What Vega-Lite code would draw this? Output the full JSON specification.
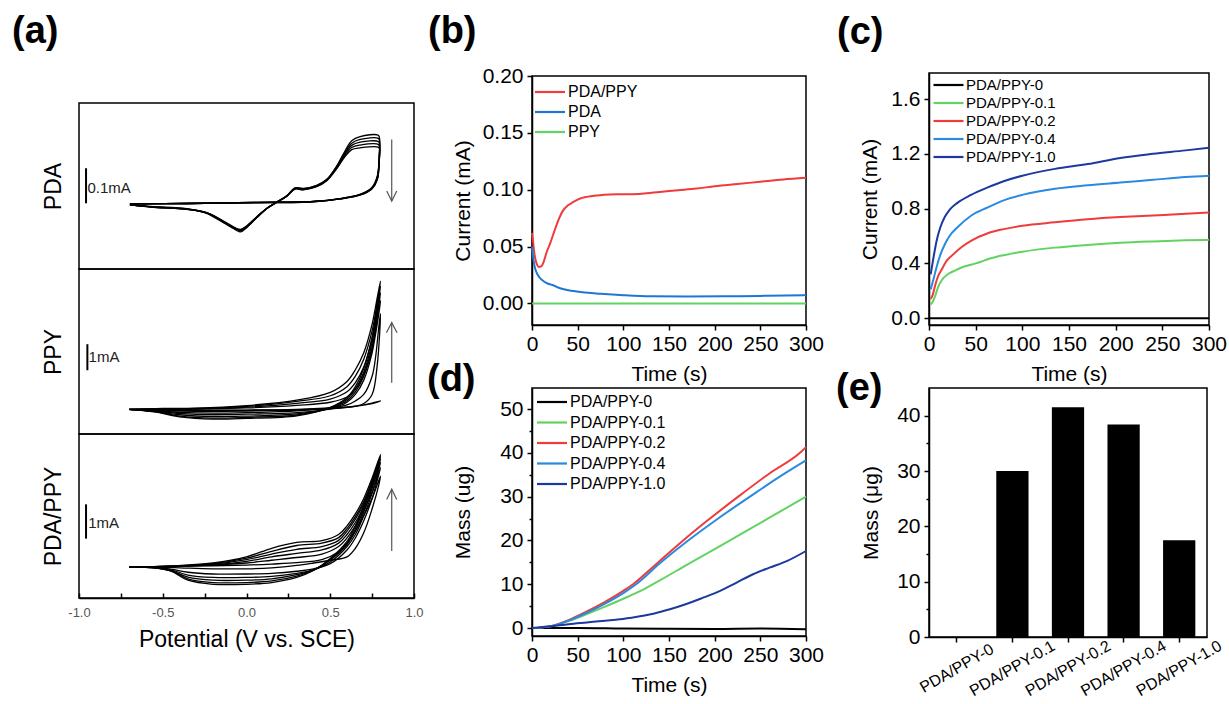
{
"$schema": "https://vega.github.io/schema/vega-lite/v6.json",
"background": "white",
"padding": {"left": 12, "top": 12, "right": 2, "bottom": 2},
"config": {
  "font": "Liberation Sans",
  "view": {"stroke": "black", "strokeWidth": 1.5},
  "axis": {"domainColor": "black", "domainWidth": 1.5, "tickColor": "black", "tickWidth": 1.5, "tickSize": 5, "labelFont": "Liberation Sans", "titleFont": "Liberation Sans", "titleFontWeight": "normal", "labelColor": "black", "titleColor": "black", "grid": false, "labelFontSize": 21, "titleFontSize": 21, "labelPadding": 3, "labelOverlap": false, "labelFlush": false},
  "legend": {"labelFont": "Liberation Sans", "labelColor": "black", "symbolType": "M-2.5,0L2.5,0", "symbolSize": 144, "symbolStrokeWidth": 2.2, "padding": 0, "labelOffset": 10, "orient": "none"},
  "title": {"font": "Liberation Sans", "fontSize": 38, "fontWeight": "bold", "anchor": "start", "frame": "group", "baseline": "alphabetic", "color": "black"}
},
"resolve": {"scale": {"color": "independent"}, "legend": {"color": "independent"}},
"spacing": 2,
"hconcat": [
 {"bounds": "flush", "spacing": 0, "vconcat": [
  {"width": 335, "height": 30, "data": {"values": [{}]}, "mark": {"type": "point", "opacity": 0}, "view": {"stroke": null},
   "title": {"text": "(a)", "offset": 22, "dx": -67}},
  {"width": 335, "height": 166,
   "encoding": {
     "x": {"field": "v", "type": "quantitative", "scale": {"domain": [-1, 1], "nice": false}, "axis": null},
     "y": {"field": "a", "type": "quantitative", "scale": {"domain": [-0.18, 0.294], "nice": false, "zero": false}, "axis": {"title": "PDA", "labels": false, "ticks": false, "domain": false, "titleFontSize": 23, "titlePadding": 14}}
   },
   "layer": [
    {"data": {"values": [
{"c":1,"i":0,"v":-0.696,"a":0.003},{"c":1,"i":1,"v":-0.556,"a":-0.002},{"c":1,"i":2,"v":-0.357,"a":-0.008},{"c":1,"i":3,"v":-0.238,"a":-0.021},{"c":1,"i":4,"v":-0.138,"a":-0.048},{"c":1,"i":5,"v":-0.069,"a":-0.067},{"c":1,"i":6,"v":-0.035,"a":-0.074},{"c":1,"i":7,"v":0.001,"a":-0.062},{"c":1,"i":8,"v":0.061,"a":-0.034},{"c":1,"i":9,"v":0.12,"a":-0.008},{"c":1,"i":10,"v":0.18,"a":0.011},{"c":1,"i":11,"v":0.24,"a":0.029},{"c":1,"i":12,"v":0.29,"a":0.052},{"c":1,"i":13,"v":0.339,"a":0.05},{"c":1,"i":14,"v":0.419,"a":0.059},{"c":1,"i":15,"v":0.479,"a":0.076},{"c":1,"i":16,"v":0.538,"a":0.114},{"c":1,"i":17,"v":0.588,"a":0.157},{"c":1,"i":18,"v":0.628,"a":0.186},{"c":1,"i":19,"v":0.678,"a":0.198},{"c":1,"i":20,"v":0.787,"a":0.202},{"c":1,"i":21,"v":0.795,"a":0.19},{"c":1,"i":22,"v":0.793,"a":0.152},{"c":1,"i":23,"v":0.781,"a":0.086},{"c":1,"i":24,"v":0.747,"a":0.052},{"c":1,"i":25,"v":0.678,"a":0.033},{"c":1,"i":26,"v":0.558,"a":0.021},{"c":1,"i":27,"v":0.399,"a":0.013},{"c":1,"i":28,"v":0.042,"a":0.01},{"c":1,"i":29,"v":-0.357,"a":0.007},{"c":1,"i":30,"v":-0.696,"a":0.006},
{"c":2,"i":0,"v":-0.696,"a":0.003},{"c":2,"i":1,"v":-0.556,"a":-0.003},{"c":2,"i":2,"v":-0.357,"a":-0.009},{"c":2,"i":3,"v":-0.238,"a":-0.02},{"c":2,"i":4,"v":-0.138,"a":-0.046},{"c":2,"i":5,"v":-0.069,"a":-0.065},{"c":2,"i":6,"v":-0.035,"a":-0.071},{"c":2,"i":7,"v":0.001,"a":-0.06},{"c":2,"i":8,"v":0.061,"a":-0.033},{"c":2,"i":9,"v":0.12,"a":-0.008},{"c":2,"i":10,"v":0.18,"a":0.011},{"c":2,"i":11,"v":0.24,"a":0.029},{"c":2,"i":12,"v":0.29,"a":0.051},{"c":2,"i":13,"v":0.339,"a":0.049},{"c":2,"i":14,"v":0.419,"a":0.058},{"c":2,"i":15,"v":0.479,"a":0.075},{"c":2,"i":16,"v":0.538,"a":0.112},{"c":2,"i":17,"v":0.588,"a":0.153},{"c":2,"i":18,"v":0.628,"a":0.179},{"c":2,"i":19,"v":0.678,"a":0.19},{"c":2,"i":20,"v":0.787,"a":0.193},{"c":2,"i":21,"v":0.795,"a":0.183},{"c":2,"i":22,"v":0.793,"a":0.146},{"c":2,"i":23,"v":0.781,"a":0.083},{"c":2,"i":24,"v":0.747,"a":0.051},{"c":2,"i":25,"v":0.678,"a":0.033},{"c":2,"i":26,"v":0.558,"a":0.021},{"c":2,"i":27,"v":0.399,"a":0.013},{"c":2,"i":28,"v":0.042,"a":0.01},{"c":2,"i":29,"v":-0.357,"a":0.007},{"c":2,"i":30,"v":-0.696,"a":0.006},
{"c":3,"i":0,"v":-0.696,"a":0.003},{"c":3,"i":1,"v":-0.556,"a":-0.003},{"c":3,"i":2,"v":-0.357,"a":-0.009},{"c":3,"i":3,"v":-0.238,"a":-0.02},{"c":3,"i":4,"v":-0.138,"a":-0.045},{"c":3,"i":5,"v":-0.069,"a":-0.064},{"c":3,"i":6,"v":-0.035,"a":-0.069},{"c":3,"i":7,"v":0.001,"a":-0.059},{"c":3,"i":8,"v":0.061,"a":-0.032},{"c":3,"i":9,"v":0.12,"a":-0.007},{"c":3,"i":10,"v":0.18,"a":0.011},{"c":3,"i":11,"v":0.24,"a":0.028},{"c":3,"i":12,"v":0.29,"a":0.05},{"c":3,"i":13,"v":0.339,"a":0.048},{"c":3,"i":14,"v":0.419,"a":0.057},{"c":3,"i":15,"v":0.479,"a":0.074},{"c":3,"i":16,"v":0.538,"a":0.11},{"c":3,"i":17,"v":0.588,"a":0.149},{"c":3,"i":18,"v":0.628,"a":0.173},{"c":3,"i":19,"v":0.678,"a":0.182},{"c":3,"i":20,"v":0.787,"a":0.184},{"c":3,"i":21,"v":0.795,"a":0.175},{"c":3,"i":22,"v":0.793,"a":0.14},{"c":3,"i":23,"v":0.781,"a":0.08},{"c":3,"i":24,"v":0.747,"a":0.05},{"c":3,"i":25,"v":0.678,"a":0.032},{"c":3,"i":26,"v":0.558,"a":0.02},{"c":3,"i":27,"v":0.399,"a":0.013},{"c":3,"i":28,"v":0.042,"a":0.01},{"c":3,"i":29,"v":-0.357,"a":0.007},{"c":3,"i":30,"v":-0.696,"a":0.006},
{"c":4,"i":0,"v":-0.696,"a":0.003},{"c":4,"i":1,"v":-0.556,"a":-0.003},{"c":4,"i":2,"v":-0.357,"a":-0.009},{"c":4,"i":3,"v":-0.238,"a":-0.019},{"c":4,"i":4,"v":-0.138,"a":-0.044},{"c":4,"i":5,"v":-0.069,"a":-0.063},{"c":4,"i":6,"v":-0.035,"a":-0.068},{"c":4,"i":7,"v":0.001,"a":-0.058},{"c":4,"i":8,"v":0.061,"a":-0.032},{"c":4,"i":9,"v":0.12,"a":-0.007},{"c":4,"i":10,"v":0.18,"a":0.01},{"c":4,"i":11,"v":0.24,"a":0.028},{"c":4,"i":12,"v":0.29,"a":0.049},{"c":4,"i":13,"v":0.339,"a":0.047},{"c":4,"i":14,"v":0.419,"a":0.056},{"c":4,"i":15,"v":0.479,"a":0.073},{"c":4,"i":16,"v":0.538,"a":0.108},{"c":4,"i":17,"v":0.588,"a":0.145},{"c":4,"i":18,"v":0.628,"a":0.167},{"c":4,"i":19,"v":0.678,"a":0.174},{"c":4,"i":20,"v":0.787,"a":0.176},{"c":4,"i":21,"v":0.795,"a":0.168},{"c":4,"i":22,"v":0.793,"a":0.135},{"c":4,"i":23,"v":0.781,"a":0.077},{"c":4,"i":24,"v":0.747,"a":0.049},{"c":4,"i":25,"v":0.678,"a":0.032},{"c":4,"i":26,"v":0.558,"a":0.02},{"c":4,"i":27,"v":0.399,"a":0.012},{"c":4,"i":28,"v":0.042,"a":0.009},{"c":4,"i":29,"v":-0.357,"a":0.007},{"c":4,"i":30,"v":-0.696,"a":0.006},
{"c":5,"i":0,"v":-0.696,"a":0.003},{"c":5,"i":1,"v":-0.556,"a":-0.004},{"c":5,"i":2,"v":-0.357,"a":-0.01},{"c":5,"i":3,"v":-0.238,"a":-0.019},{"c":5,"i":4,"v":-0.138,"a":-0.043},{"c":5,"i":5,"v":-0.069,"a":-0.062},{"c":5,"i":6,"v":-0.035,"a":-0.067},{"c":5,"i":7,"v":0.001,"a":-0.057},{"c":5,"i":8,"v":0.061,"a":-0.031},{"c":5,"i":9,"v":0.12,"a":-0.007},{"c":5,"i":10,"v":0.18,"a":0.01},{"c":5,"i":11,"v":0.24,"a":0.027},{"c":5,"i":12,"v":0.29,"a":0.048},{"c":5,"i":13,"v":0.339,"a":0.046},{"c":5,"i":14,"v":0.419,"a":0.055},{"c":5,"i":15,"v":0.479,"a":0.072},{"c":5,"i":16,"v":0.538,"a":0.106},{"c":5,"i":17,"v":0.588,"a":0.141},{"c":5,"i":18,"v":0.628,"a":0.161},{"c":5,"i":19,"v":0.678,"a":0.166},{"c":5,"i":20,"v":0.787,"a":0.168},{"c":5,"i":21,"v":0.795,"a":0.161},{"c":5,"i":22,"v":0.793,"a":0.13},{"c":5,"i":23,"v":0.781,"a":0.075},{"c":5,"i":24,"v":0.747,"a":0.048},{"c":5,"i":25,"v":0.678,"a":0.031},{"c":5,"i":26,"v":0.558,"a":0.02},{"c":5,"i":27,"v":0.399,"a":0.012},{"c":5,"i":28,"v":0.042,"a":0.009},{"c":5,"i":29,"v":-0.357,"a":0.007},{"c":5,"i":30,"v":-0.696,"a":0.006}
     ]},
     "mark": {"type": "line", "color": "black", "strokeWidth": 1.3, "interpolate": "catmull-rom"},
     "encoding": {"detail": {"field": "c", "type": "nominal"}, "order": {"field": "i", "type": "quantitative"}}},
    {"data": {"values": [{"v": -0.958, "a": 0.0077, "a2": 0.1077}]}, "mark": {"type": "rule", "color": "black", "strokeWidth": 2},
     "encoding": {"y2": {"field": "a2"}}},
    {"data": {"values": [{"v": -0.95, "a": 0.052, "t": "0.1mA"}]}, "mark": {"type": "text", "align": "left", "baseline": "middle", "fontSize": 15, "color": "#222"},
     "encoding": {"text": {"field": "t"}}},
    {"data": {"values": [{"v": 0.867, "a": 0.19, "a2": 0.014}]}, "mark": {"type": "rule", "color": "#555", "strokeWidth": 1.2},
     "encoding": {"y2": {"field": "a2"}}},
    {"data": {"values": [{"v": 0.837, "a": 0.043, "i": 0}, {"v": 0.867, "a": 0.014, "i": 1}, {"v": 0.897, "a": 0.043, "i": 2}]}, "mark": {"type": "line", "color": "#555", "strokeWidth": 1.2},
     "encoding": {"order": {"field": "i", "type": "quantitative"}}}
   ]},
  {"width": 335, "height": 165,
   "encoding": {
     "x": {"field": "v", "type": "quantitative", "scale": {"domain": [-1, 1], "nice": false}, "axis": null},
     "y": {"field": "a", "type": "quantitative", "scale": {"domain": [-0.92, 5.42], "nice": false, "zero": false}, "axis": {"title": "PPY", "labels": false, "ticks": false, "domain": false, "titleFontSize": 23, "titlePadding": 14}}
   },
   "layer": [
    {"data": {"values": [
{"c":0,"i":0,"v":-0.7,"a":0.03},{"c":0,"i":1,"v":-0.5,"a":0.0},{"c":0,"i":2,"v":-0.3,"a":0.0},{"c":0,"i":3,"v":0.0,"a":0.0},{"c":0,"i":4,"v":0.3,"a":0.03},{"c":0,"i":5,"v":0.5,"a":0.08},{"c":0,"i":6,"v":0.6,"a":0.12},{"c":0,"i":7,"v":0.65,"a":0.15},{"c":0,"i":8,"v":0.7,"a":0.19},{"c":0,"i":9,"v":0.75,"a":0.25},{"c":0,"i":10,"v":0.78,"a":0.3},{"c":0,"i":11,"v":0.8,"a":0.35},{"c":0,"i":12,"v":0.79,"a":0.33},{"c":0,"i":13,"v":0.77,"a":0.3},{"c":0,"i":14,"v":0.75,"a":0.27},{"c":0,"i":15,"v":0.7,"a":0.2},{"c":0,"i":16,"v":0.65,"a":0.14},{"c":0,"i":17,"v":0.6,"a":0.1},{"c":0,"i":18,"v":0.5,"a":0.05},{"c":0,"i":19,"v":0.3,"a":0.0},{"c":0,"i":20,"v":0.0,"a":-0.04},{"c":0,"i":21,"v":-0.2,"a":-0.05},{"c":0,"i":22,"v":-0.4,"a":-0.04},{"c":0,"i":23,"v":-0.55,"a":-0.01},{"c":0,"i":24,"v":-0.7,"a":0.02},
{"c":1,"i":0,"v":-0.7,"a":0.03},{"c":1,"i":1,"v":-0.5,"a":0.0},{"c":1,"i":2,"v":-0.3,"a":-0.01},{"c":1,"i":3,"v":0.0,"a":-0.01},{"c":1,"i":4,"v":0.3,"a":0.01},{"c":1,"i":5,"v":0.5,"a":0.05},{"c":1,"i":6,"v":0.6,"a":0.1},{"c":1,"i":7,"v":0.65,"a":0.15},{"c":1,"i":8,"v":0.7,"a":0.25},{"c":1,"i":9,"v":0.75,"a":0.6},{"c":1,"i":10,"v":0.78,"a":1.7},{"c":1,"i":11,"v":0.8,"a":3.7},{"c":1,"i":12,"v":0.79,"a":3.2},{"c":1,"i":13,"v":0.77,"a":2.0},{"c":1,"i":14,"v":0.75,"a":1.3},{"c":1,"i":15,"v":0.7,"a":0.6},{"c":1,"i":16,"v":0.65,"a":0.35},{"c":1,"i":17,"v":0.6,"a":0.2},{"c":1,"i":18,"v":0.5,"a":0.08},{"c":1,"i":19,"v":0.3,"a":-0.03},{"c":1,"i":20,"v":0.0,"a":-0.1},{"c":1,"i":21,"v":-0.2,"a":-0.12},{"c":1,"i":22,"v":-0.4,"a":-0.09},{"c":1,"i":23,"v":-0.55,"a":-0.03},{"c":1,"i":24,"v":-0.7,"a":0.02},
{"c":2,"i":0,"v":-0.7,"a":0.03},{"c":2,"i":1,"v":-0.5,"a":0.03},{"c":2,"i":2,"v":-0.3,"a":0.04},{"c":2,"i":3,"v":0.0,"a":0.08},{"c":2,"i":4,"v":0.3,"a":0.18},{"c":2,"i":5,"v":0.5,"a":0.3},{"c":2,"i":6,"v":0.6,"a":0.5},{"c":2,"i":7,"v":0.65,"a":0.8},{"c":2,"i":8,"v":0.7,"a":1.35},{"c":2,"i":9,"v":0.75,"a":2.4},{"c":2,"i":10,"v":0.78,"a":3.4},{"c":2,"i":11,"v":0.8,"a":4.2},{"c":2,"i":12,"v":0.79,"a":3.7},{"c":2,"i":13,"v":0.77,"a":2.9},{"c":2,"i":14,"v":0.75,"a":2.2},{"c":2,"i":15,"v":0.7,"a":1.15},{"c":2,"i":16,"v":0.65,"a":0.6},{"c":2,"i":17,"v":0.6,"a":0.3},{"c":2,"i":18,"v":0.5,"a":0.05},{"c":2,"i":19,"v":0.3,"a":-0.1},{"c":2,"i":20,"v":0.0,"a":-0.16},{"c":2,"i":21,"v":-0.2,"a":-0.18},{"c":2,"i":22,"v":-0.4,"a":-0.13},{"c":2,"i":23,"v":-0.55,"a":-0.04},{"c":2,"i":24,"v":-0.7,"a":0.03},
{"c":3,"i":0,"v":-0.7,"a":0.03},{"c":3,"i":1,"v":-0.5,"a":0.04},{"c":3,"i":2,"v":-0.3,"a":0.05},{"c":3,"i":3,"v":0.0,"a":0.11},{"c":3,"i":4,"v":0.3,"a":0.26},{"c":3,"i":5,"v":0.5,"a":0.42},{"c":3,"i":6,"v":0.6,"a":0.7},{"c":3,"i":7,"v":0.65,"a":1.05},{"c":3,"i":8,"v":0.7,"a":1.65},{"c":3,"i":9,"v":0.75,"a":2.75},{"c":3,"i":10,"v":0.78,"a":3.75},{"c":3,"i":11,"v":0.8,"a":4.5},{"c":3,"i":12,"v":0.79,"a":4.0},{"c":3,"i":13,"v":0.77,"a":3.15},{"c":3,"i":14,"v":0.75,"a":2.4},{"c":3,"i":15,"v":0.7,"a":1.3},{"c":3,"i":16,"v":0.65,"a":0.7},{"c":3,"i":17,"v":0.6,"a":0.36},{"c":3,"i":18,"v":0.5,"a":0.07},{"c":3,"i":19,"v":0.3,"a":-0.15},{"c":3,"i":20,"v":0.0,"a":-0.23},{"c":3,"i":21,"v":-0.2,"a":-0.25},{"c":3,"i":22,"v":-0.4,"a":-0.18},{"c":3,"i":23,"v":-0.55,"a":-0.05},{"c":3,"i":24,"v":-0.7,"a":0.03},
{"c":4,"i":0,"v":-0.7,"a":0.03},{"c":4,"i":1,"v":-0.5,"a":0.05},{"c":4,"i":2,"v":-0.3,"a":0.06},{"c":4,"i":3,"v":0.0,"a":0.14},{"c":4,"i":4,"v":0.3,"a":0.33},{"c":4,"i":5,"v":0.5,"a":0.55},{"c":4,"i":6,"v":0.6,"a":0.9},{"c":4,"i":7,"v":0.65,"a":1.3},{"c":4,"i":8,"v":0.7,"a":1.95},{"c":4,"i":9,"v":0.75,"a":3.05},{"c":4,"i":10,"v":0.78,"a":4.05},{"c":4,"i":11,"v":0.8,"a":4.75},{"c":4,"i":12,"v":0.79,"a":4.25},{"c":4,"i":13,"v":0.77,"a":3.4},{"c":4,"i":14,"v":0.75,"a":2.6},{"c":4,"i":15,"v":0.7,"a":1.45},{"c":4,"i":16,"v":0.65,"a":0.8},{"c":4,"i":17,"v":0.6,"a":0.42},{"c":4,"i":18,"v":0.5,"a":0.09},{"c":4,"i":19,"v":0.3,"a":-0.19},{"c":4,"i":20,"v":0.0,"a":-0.28},{"c":4,"i":21,"v":-0.2,"a":-0.31},{"c":4,"i":22,"v":-0.4,"a":-0.23},{"c":4,"i":23,"v":-0.55,"a":-0.06},{"c":4,"i":24,"v":-0.7,"a":0.03},
{"c":5,"i":0,"v":-0.7,"a":0.03},{"c":5,"i":1,"v":-0.5,"a":0.06},{"c":5,"i":2,"v":-0.3,"a":0.07},{"c":5,"i":3,"v":0.0,"a":0.17},{"c":5,"i":4,"v":0.3,"a":0.38},{"c":5,"i":5,"v":0.5,"a":0.68},{"c":5,"i":6,"v":0.6,"a":1.1},{"c":5,"i":7,"v":0.65,"a":1.55},{"c":5,"i":8,"v":0.7,"a":2.2},{"c":5,"i":9,"v":0.75,"a":3.3},{"c":5,"i":10,"v":0.78,"a":4.3},{"c":5,"i":11,"v":0.8,"a":4.95},{"c":5,"i":12,"v":0.79,"a":4.45},{"c":5,"i":13,"v":0.77,"a":3.6},{"c":5,"i":14,"v":0.75,"a":2.8},{"c":5,"i":15,"v":0.7,"a":1.6},{"c":5,"i":16,"v":0.65,"a":0.9},{"c":5,"i":17,"v":0.6,"a":0.48},{"c":5,"i":18,"v":0.5,"a":0.1},{"c":5,"i":19,"v":0.3,"a":-0.22},{"c":5,"i":20,"v":0.0,"a":-0.32},{"c":5,"i":21,"v":-0.2,"a":-0.35},{"c":5,"i":22,"v":-0.4,"a":-0.26},{"c":5,"i":23,"v":-0.55,"a":-0.07},{"c":5,"i":24,"v":-0.7,"a":0.03}
     ]},
     "mark": {"type": "line", "color": "black", "strokeWidth": 1.3, "interpolate": "catmull-rom"},
     "encoding": {"detail": {"field": "c", "type": "nominal"}, "order": {"field": "i", "type": "quantitative"}}},
    {"data": {"values": [{"v": -0.95, "a": 1.53, "a2": 2.53}]}, "mark": {"type": "rule", "color": "black", "strokeWidth": 2},
     "encoding": {"y2": {"field": "a2"}}},
    {"data": {"values": [{"v": -0.943, "a": 2.04, "t": "1mA"}]}, "mark": {"type": "text", "align": "left", "baseline": "middle", "fontSize": 15, "color": "#222"},
     "encoding": {"text": {"field": "t"}}},
    {"data": {"values": [{"v": 0.867, "a": 1.05, "a2": 3.36}]}, "mark": {"type": "rule", "color": "#555", "strokeWidth": 1.2},
     "encoding": {"y2": {"field": "a2"}}},
    {"data": {"values": [{"v": 0.835, "a": 2.97, "i": 0}, {"v": 0.867, "a": 3.36, "i": 1}, {"v": 0.899, "a": 2.97, "i": 2}]}, "mark": {"type": "line", "color": "#555", "strokeWidth": 1.2},
     "encoding": {"order": {"field": "i", "type": "quantitative"}}}
   ]},
  {"width": 335, "height": 164,
   "encoding": {
     "x": {"field": "v", "type": "quantitative", "scale": {"domain": [-1, 1], "nice": false},
           "axis": {"title": "Potential (V vs. SCE)", "values": [-1, -0.75, -0.5, -0.25, 0, 0.25, 0.5, 0.75, 1], "labelExpr": "datum.value % 0.5 === 0 ? replace(format(datum.value, '.1f'), '\u2212', '-') : ''", "tickSize": -5, "labelPadding": 13, "labelFontSize": 13, "labelColor": "#555", "titleFontSize": 23, "titlePadding": 9}},
     "y": {"field": "a", "type": "quantitative", "scale": {"domain": [-0.9, 3.88], "nice": false, "zero": false}, "axis": {"title": "PDA/PPY", "labels": false, "ticks": false, "domain": false, "titleFontSize": 23, "titlePadding": 14}}
   },
   "layer": [
    {"data": {"values": [
{"c":1,"i":0,"v":-0.7,"a":0.0},{"c":1,"i":1,"v":-0.45,"a":0.02},{"c":1,"i":2,"v":-0.2,"a":0.04},{"c":1,"i":3,"v":0.0,"a":0.06},{"c":1,"i":4,"v":0.15,"a":0.09},{"c":1,"i":5,"v":0.3,"a":0.13},{"c":1,"i":6,"v":0.45,"a":0.22},{"c":1,"i":7,"v":0.55,"a":0.45},{"c":1,"i":8,"v":0.6,"a":0.7},{"c":1,"i":9,"v":0.65,"a":1.05},{"c":1,"i":10,"v":0.7,"a":1.5},{"c":1,"i":11,"v":0.75,"a":2.0},{"c":1,"i":12,"v":0.8,"a":2.65},{"c":1,"i":13,"v":0.79,"a":2.4},{"c":1,"i":14,"v":0.75,"a":1.7},{"c":1,"i":15,"v":0.7,"a":1.0},{"c":1,"i":16,"v":0.65,"a":0.55},{"c":1,"i":17,"v":0.6,"a":0.3},{"c":1,"i":18,"v":0.5,"a":0.2},{"c":1,"i":19,"v":0.4,"a":0.12},{"c":1,"i":20,"v":0.3,"a":0.05},{"c":1,"i":21,"v":0.15,"a":-0.02},{"c":1,"i":22,"v":0.0,"a":-0.05},{"c":1,"i":23,"v":-0.2,"a":-0.05},{"c":1,"i":24,"v":-0.35,"a":-0.03},{"c":1,"i":25,"v":-0.45,"a":-0.01},{"c":1,"i":26,"v":-0.55,"a":0.0},{"c":1,"i":27,"v":-0.7,"a":0.0},
{"c":2,"i":0,"v":-0.7,"a":0.0},{"c":2,"i":1,"v":-0.45,"a":0.02},{"c":2,"i":2,"v":-0.2,"a":0.06},{"c":2,"i":3,"v":0.0,"a":0.12},{"c":2,"i":4,"v":0.15,"a":0.2},{"c":2,"i":5,"v":0.3,"a":0.28},{"c":2,"i":6,"v":0.45,"a":0.38},{"c":2,"i":7,"v":0.55,"a":0.6},{"c":2,"i":8,"v":0.6,"a":0.85},{"c":2,"i":9,"v":0.65,"a":1.2},{"c":2,"i":10,"v":0.7,"a":1.65},{"c":2,"i":11,"v":0.75,"a":2.2},{"c":2,"i":12,"v":0.8,"a":2.9},{"c":2,"i":13,"v":0.79,"a":2.7},{"c":2,"i":14,"v":0.75,"a":2.0},{"c":2,"i":15,"v":0.7,"a":1.35},{"c":2,"i":16,"v":0.65,"a":0.85},{"c":2,"i":17,"v":0.6,"a":0.5},{"c":2,"i":18,"v":0.5,"a":0.1},{"c":2,"i":19,"v":0.4,"a":-0.05},{"c":2,"i":20,"v":0.3,"a":-0.12},{"c":2,"i":21,"v":0.15,"a":-0.18},{"c":2,"i":22,"v":0.0,"a":-0.2},{"c":2,"i":23,"v":-0.2,"a":-0.2},{"c":2,"i":24,"v":-0.35,"a":-0.15},{"c":2,"i":25,"v":-0.45,"a":-0.06},{"c":2,"i":26,"v":-0.55,"a":-0.01},{"c":2,"i":27,"v":-0.7,"a":0.0},
{"c":3,"i":0,"v":-0.7,"a":0.0},{"c":3,"i":1,"v":-0.45,"a":0.02},{"c":3,"i":2,"v":-0.2,"a":0.07},{"c":3,"i":3,"v":0.0,"a":0.17},{"c":3,"i":4,"v":0.15,"a":0.3},{"c":3,"i":5,"v":0.3,"a":0.4},{"c":3,"i":6,"v":0.45,"a":0.5},{"c":3,"i":7,"v":0.55,"a":0.7},{"c":3,"i":8,"v":0.6,"a":0.95},{"c":3,"i":9,"v":0.65,"a":1.3},{"c":3,"i":10,"v":0.7,"a":1.75},{"c":3,"i":11,"v":0.75,"a":2.35},{"c":3,"i":12,"v":0.8,"a":3.05},{"c":3,"i":13,"v":0.79,"a":2.85},{"c":3,"i":14,"v":0.75,"a":2.15},{"c":3,"i":15,"v":0.7,"a":1.5},{"c":3,"i":16,"v":0.65,"a":0.95},{"c":3,"i":17,"v":0.6,"a":0.6},{"c":3,"i":18,"v":0.5,"a":0.15},{"c":3,"i":19,"v":0.4,"a":-0.08},{"c":3,"i":20,"v":0.3,"a":-0.18},{"c":3,"i":21,"v":0.15,"a":-0.27},{"c":3,"i":22,"v":0.0,"a":-0.3},{"c":3,"i":23,"v":-0.2,"a":-0.3},{"c":3,"i":24,"v":-0.35,"a":-0.23},{"c":3,"i":25,"v":-0.45,"a":-0.08},{"c":3,"i":26,"v":-0.55,"a":-0.01},{"c":3,"i":27,"v":-0.7,"a":0.0},
{"c":4,"i":0,"v":-0.7,"a":0.0},{"c":4,"i":1,"v":-0.45,"a":0.03},{"c":4,"i":2,"v":-0.2,"a":0.09},{"c":4,"i":3,"v":0.0,"a":0.22},{"c":4,"i":4,"v":0.15,"a":0.38},{"c":4,"i":5,"v":0.3,"a":0.52},{"c":4,"i":6,"v":0.45,"a":0.6},{"c":4,"i":7,"v":0.55,"a":0.78},{"c":4,"i":8,"v":0.6,"a":1.05},{"c":4,"i":9,"v":0.65,"a":1.4},{"c":4,"i":10,"v":0.7,"a":1.85},{"c":4,"i":11,"v":0.75,"a":2.45},{"c":4,"i":12,"v":0.8,"a":3.15},{"c":4,"i":13,"v":0.79,"a":2.95},{"c":4,"i":14,"v":0.75,"a":2.3},{"c":4,"i":15,"v":0.7,"a":1.6},{"c":4,"i":16,"v":0.65,"a":1.05},{"c":4,"i":17,"v":0.6,"a":0.66},{"c":4,"i":18,"v":0.5,"a":0.2},{"c":4,"i":19,"v":0.4,"a":-0.08},{"c":4,"i":20,"v":0.3,"a":-0.22},{"c":4,"i":21,"v":0.15,"a":-0.34},{"c":4,"i":22,"v":0.0,"a":-0.38},{"c":4,"i":23,"v":-0.2,"a":-0.38},{"c":4,"i":24,"v":-0.35,"a":-0.29},{"c":4,"i":25,"v":-0.45,"a":-0.1},{"c":4,"i":26,"v":-0.55,"a":-0.02},{"c":4,"i":27,"v":-0.7,"a":0.0},
{"c":5,"i":0,"v":-0.7,"a":0.0},{"c":5,"i":1,"v":-0.45,"a":0.03},{"c":5,"i":2,"v":-0.2,"a":0.1},{"c":5,"i":3,"v":0.0,"a":0.26},{"c":5,"i":4,"v":0.15,"a":0.46},{"c":5,"i":5,"v":0.3,"a":0.63},{"c":5,"i":6,"v":0.45,"a":0.7},{"c":5,"i":7,"v":0.55,"a":0.86},{"c":5,"i":8,"v":0.6,"a":1.12},{"c":5,"i":9,"v":0.65,"a":1.47},{"c":5,"i":10,"v":0.7,"a":1.92},{"c":5,"i":11,"v":0.75,"a":2.52},{"c":5,"i":12,"v":0.8,"a":3.22},{"c":5,"i":13,"v":0.79,"a":3.02},{"c":5,"i":14,"v":0.75,"a":2.4},{"c":5,"i":15,"v":0.7,"a":1.7},{"c":5,"i":16,"v":0.65,"a":1.12},{"c":5,"i":17,"v":0.6,"a":0.7},{"c":5,"i":18,"v":0.5,"a":0.22},{"c":5,"i":19,"v":0.4,"a":-0.09},{"c":5,"i":20,"v":0.3,"a":-0.26},{"c":5,"i":21,"v":0.15,"a":-0.4},{"c":5,"i":22,"v":0.0,"a":-0.45},{"c":5,"i":23,"v":-0.2,"a":-0.45},{"c":5,"i":24,"v":-0.35,"a":-0.34},{"c":5,"i":25,"v":-0.45,"a":-0.11},{"c":5,"i":26,"v":-0.55,"a":-0.02},{"c":5,"i":27,"v":-0.7,"a":0.0},
{"c":6,"i":0,"v":-0.7,"a":0.0},{"c":6,"i":1,"v":-0.45,"a":0.03},{"c":6,"i":2,"v":-0.2,"a":0.12},{"c":6,"i":3,"v":0.0,"a":0.3},{"c":6,"i":4,"v":0.15,"a":0.55},{"c":6,"i":5,"v":0.3,"a":0.72},{"c":6,"i":6,"v":0.45,"a":0.77},{"c":6,"i":7,"v":0.55,"a":0.95},{"c":6,"i":8,"v":0.6,"a":1.2},{"c":6,"i":9,"v":0.65,"a":1.55},{"c":6,"i":10,"v":0.7,"a":2.0},{"c":6,"i":11,"v":0.75,"a":2.6},{"c":6,"i":12,"v":0.8,"a":3.28},{"c":6,"i":13,"v":0.79,"a":3.08},{"c":6,"i":14,"v":0.75,"a":2.5},{"c":6,"i":15,"v":0.7,"a":1.8},{"c":6,"i":16,"v":0.65,"a":1.2},{"c":6,"i":17,"v":0.6,"a":0.75},{"c":6,"i":18,"v":0.5,"a":0.25},{"c":6,"i":19,"v":0.4,"a":-0.1},{"c":6,"i":20,"v":0.3,"a":-0.3},{"c":6,"i":21,"v":0.15,"a":-0.45},{"c":6,"i":22,"v":0.0,"a":-0.5},{"c":6,"i":23,"v":-0.2,"a":-0.5},{"c":6,"i":24,"v":-0.35,"a":-0.38},{"c":6,"i":25,"v":-0.45,"a":-0.12},{"c":6,"i":26,"v":-0.55,"a":-0.02},{"c":6,"i":27,"v":-0.7,"a":0.0}
     ]},
     "mark": {"type": "line", "color": "black", "strokeWidth": 1.3, "interpolate": "catmull-rom"},
     "encoding": {"detail": {"field": "c", "type": "nominal"}, "order": {"field": "i", "type": "quantitative"}}},
    {"data": {"values": [{"v": -0.958, "a": 0.83, "a2": 1.83}]}, "mark": {"type": "rule", "color": "black", "strokeWidth": 2},
     "encoding": {"y2": {"field": "a2"}}},
    {"data": {"values": [{"v": -0.945, "a": 1.29, "t": "1mA"}]}, "mark": {"type": "text", "align": "left", "baseline": "middle", "fontSize": 15, "color": "#222"},
     "encoding": {"text": {"field": "t"}}},
    {"data": {"values": [{"v": 0.867, "a": 0.47, "a2": 2.27}]}, "mark": {"type": "rule", "color": "#555", "strokeWidth": 1.2},
     "encoding": {"y2": {"field": "a2"}}},
    {"data": {"values": [{"v": 0.837, "a": 1.97, "i": 0}, {"v": 0.867, "a": 2.27, "i": 1}, {"v": 0.897, "a": 1.97, "i": 2}]}, "mark": {"type": "line", "color": "#555", "strokeWidth": 1.2},
     "encoding": {"order": {"field": "i", "type": "quantitative"}}}
   ]}
 ]},
 {"spacing": 10, "resolve": {"scale": {"color": "independent"}, "legend": {"color": "independent"}}, "hconcat": [
  {"bounds": "flush", "spacing": 0, "resolve": {"scale": {"color": "independent"}, "legend": {"color": "independent"}}, "vconcat": [
   {"width": 274, "height": 3, "data": {"values": [{}]}, "mark": {"type": "point", "opacity": 0}, "view": {"stroke": null}},
   {"width": 274, "height": 249,
     "title": {"text": "(b)", "offset": 14, "dx": -104},
     "data": {"values": [
{"s":"PDA/PPY","t":0,"y":0.062},{"s":"PDA/PPY","t":1,"y":0.056},{"s":"PDA/PPY","t":2,"y":0.048},{"s":"PDA/PPY","t":3,"y":0.042},{"s":"PDA/PPY","t":4,"y":0.038},{"s":"PDA/PPY","t":5.5,"y":0.034},{"s":"PDA/PPY","t":7.5,"y":0.032},{"s":"PDA/PPY","t":10,"y":0.0325},{"s":"PDA/PPY","t":13,"y":0.037},{"s":"PDA/PPY","t":16,"y":0.045},{"s":"PDA/PPY","t":20,"y":0.053},{"s":"PDA/PPY","t":23.4,"y":0.061},{"s":"PDA/PPY","t":26,"y":0.067},{"s":"PDA/PPY","t":28.8,"y":0.073},{"s":"PDA/PPY","t":31.5,"y":0.078},{"s":"PDA/PPY","t":34.3,"y":0.082},{"s":"PDA/PPY","t":39,"y":0.086},{"s":"PDA/PPY","t":45,"y":0.089},{"s":"PDA/PPY","t":52,"y":0.092},{"s":"PDA/PPY","t":60,"y":0.0937},{"s":"PDA/PPY","t":72,"y":0.095},{"s":"PDA/PPY","t":85,"y":0.0958},{"s":"PDA/PPY","t":100,"y":0.096},{"s":"PDA/PPY","t":120,"y":0.0965},{"s":"PDA/PPY","t":140,"y":0.098},{"s":"PDA/PPY","t":160,"y":0.0995},{"s":"PDA/PPY","t":180,"y":0.101},{"s":"PDA/PPY","t":200,"y":0.103},{"s":"PDA/PPY","t":225,"y":0.105},{"s":"PDA/PPY","t":250,"y":0.107},{"s":"PDA/PPY","t":275,"y":0.109},{"s":"PDA/PPY","t":300,"y":0.1105},
{"s":"PDA","t":0,"y":0.05},{"s":"PDA","t":1,"y":0.042},{"s":"PDA","t":2,"y":0.036},{"s":"PDA","t":3,"y":0.032},{"s":"PDA","t":5,"y":0.027},{"s":"PDA","t":8,"y":0.023},{"s":"PDA","t":12,"y":0.02},{"s":"PDA","t":17,"y":0.0175},{"s":"PDA","t":23,"y":0.016},{"s":"PDA","t":30,"y":0.0135},{"s":"PDA","t":40,"y":0.0115},{"s":"PDA","t":55,"y":0.0098},{"s":"PDA","t":75,"y":0.0085},{"s":"PDA","t":100,"y":0.0072},{"s":"PDA","t":130,"y":0.0062},{"s":"PDA","t":170,"y":0.006},{"s":"PDA","t":210,"y":0.0062},{"s":"PDA","t":250,"y":0.0066},{"s":"PDA","t":300,"y":0.0073},
{"s":"PPY","t":0,"y":0.0},{"s":"PPY","t":100,"y":0.0},{"s":"PPY","t":200,"y":0.0},{"s":"PPY","t":300,"y":0.0}
     ]},
     "mark": {"type": "line", "strokeWidth": 2, "interpolate": "monotone"},
     "encoding": {
       "x": {"field": "t", "type": "quantitative", "scale": {"domain": [0, 300], "nice": false}, "axis": {"title": "Time (s)", "values": [0, 50, 100, 150, 200, 250, 300], "titlePadding": 9}},
       "y": {"field": "y", "type": "quantitative", "scale": {"domain": [-0.019, 0.2], "nice": false, "zero": false}, "axis": {"title": "Current (mA)", "values": [0, 0.05, 0.1, 0.15, 0.2], "format": ".2f", "titlePadding": 9, "labelPadding": 4}},
       "color": {"field": "s", "type": "nominal", "scale": {"domain": ["PDA/PPY", "PDA", "PPY"], "range": ["#ef3b3b", "#1f77d4", "#62d362"]},
                 "legend": {"title": null, "legendX": 10, "legendY": 8, "labelFontSize": 16, "rowPadding": 4}}
     }},
   {"width": 274, "height": 63, "data": {"values": [{}]}, "mark": {"type": "point", "opacity": 0}, "view": {"stroke": null}},
   {"width": 274, "height": 248,
     "title": {"text": "(d)", "offset": 0, "dy": 11, "dx": -105},
     "data": {"values": [
{"s":"PDA/PPY-0","t":0,"y":0},{"s":"PDA/PPY-0","t":50,"y":0.0},{"s":"PDA/PPY-0","t":100,"y":-0.1},{"s":"PDA/PPY-0","t":150,"y":-0.15},{"s":"PDA/PPY-0","t":200,"y":-0.2},{"s":"PDA/PPY-0","t":250,"y":-0.1},{"s":"PDA/PPY-0","t":300,"y":-0.25},
{"s":"PDA/PPY-0.1","t":0,"y":0},{"s":"PDA/PPY-0.1","t":20,"y":0.4},{"s":"PDA/PPY-0.1","t":40,"y":1.6},{"s":"PDA/PPY-0.1","t":60,"y":3.2},{"s":"PDA/PPY-0.1","t":80,"y":4.9},{"s":"PDA/PPY-0.1","t":100,"y":6.7},{"s":"PDA/PPY-0.1","t":120,"y":8.6},{"s":"PDA/PPY-0.1","t":140,"y":10.9},{"s":"PDA/PPY-0.1","t":170,"y":14.5},{"s":"PDA/PPY-0.1","t":200,"y":18.0},{"s":"PDA/PPY-0.1","t":230,"y":21.6},{"s":"PDA/PPY-0.1","t":260,"y":25.2},{"s":"PDA/PPY-0.1","t":300,"y":30.0},
{"s":"PDA/PPY-0.2","t":0,"y":0},{"s":"PDA/PPY-0.2","t":20,"y":0.4},{"s":"PDA/PPY-0.2","t":40,"y":1.8},{"s":"PDA/PPY-0.2","t":60,"y":3.8},{"s":"PDA/PPY-0.2","t":80,"y":6.0},{"s":"PDA/PPY-0.2","t":100,"y":8.5},{"s":"PDA/PPY-0.2","t":110.7,"y":10},{"s":"PDA/PPY-0.2","t":130,"y":13.5},{"s":"PDA/PPY-0.2","t":150,"y":17.2},{"s":"PDA/PPY-0.2","t":165.5,"y":20},{"s":"PDA/PPY-0.2","t":190,"y":24.2},{"s":"PDA/PPY-0.2","t":225.8,"y":30},{"s":"PDA/PPY-0.2","t":260,"y":35.3},{"s":"PDA/PPY-0.2","t":293.4,"y":40},{"s":"PDA/PPY-0.2","t":300,"y":41.3},
{"s":"PDA/PPY-0.4","t":0,"y":0},{"s":"PDA/PPY-0.4","t":20,"y":0.4},{"s":"PDA/PPY-0.4","t":40,"y":1.7},{"s":"PDA/PPY-0.4","t":60,"y":3.5},{"s":"PDA/PPY-0.4","t":80,"y":5.6},{"s":"PDA/PPY-0.4","t":100,"y":8.0},{"s":"PDA/PPY-0.4","t":114,"y":10},{"s":"PDA/PPY-0.4","t":140,"y":14.8},{"s":"PDA/PPY-0.4","t":171,"y":20},{"s":"PDA/PPY-0.4","t":205,"y":25.2},{"s":"PDA/PPY-0.4","t":238.6,"y":30},{"s":"PDA/PPY-0.4","t":270,"y":34.4},{"s":"PDA/PPY-0.4","t":300,"y":38.3},
{"s":"PDA/PPY-1.0","t":0,"y":0},{"s":"PDA/PPY-1.0","t":20,"y":0.4},{"s":"PDA/PPY-1.0","t":40,"y":0.9},{"s":"PDA/PPY-1.0","t":60,"y":1.3},{"s":"PDA/PPY-1.0","t":80,"y":1.7},{"s":"PDA/PPY-1.0","t":96,"y":2.0},{"s":"PDA/PPY-1.0","t":115,"y":2.6},{"s":"PDA/PPY-1.0","t":133,"y":3.3},{"s":"PDA/PPY-1.0","t":151,"y":4.3},{"s":"PDA/PPY-1.0","t":169,"y":5.5},{"s":"PDA/PPY-1.0","t":188,"y":7.0},{"s":"PDA/PPY-1.0","t":206,"y":8.5},{"s":"PDA/PPY-1.0","t":224,"y":10.4},{"s":"PDA/PPY-1.0","t":242,"y":12.3},{"s":"PDA/PPY-1.0","t":260,"y":13.8},{"s":"PDA/PPY-1.0","t":279,"y":15.3},{"s":"PDA/PPY-1.0","t":300,"y":17.6}
     ]},
     "mark": {"type": "line", "strokeWidth": 2, "interpolate": "monotone"},
     "encoding": {
       "x": {"field": "t", "type": "quantitative", "scale": {"domain": [0, 300], "nice": false}, "axis": {"title": "Time (s)", "values": [0, 50, 100, 150, 200, 250, 300], "titlePadding": 9}},
       "y": {"field": "y", "type": "quantitative", "scale": {"domain": [-1.8, 54.8], "nice": false, "zero": false},
             "axis": {"title": "Mass (ug)", "values": [0, 5, 10, 15, 20, 25, 30, 35, 40, 45, 50], "labelExpr": "datum.value % 10 === 0 ? datum.label : ''", "tickSize": {"condition": {"test": "datum.value % 10 === 0", "value": 5}, "value": 3}, "titlePadding": 26, "labelPadding": 4}},
       "color": {"field": "s", "type": "nominal", "scale": {"domain": ["PDA/PPY-0", "PDA/PPY-0.1", "PDA/PPY-0.2", "PDA/PPY-0.4", "PDA/PPY-1.0"], "range": ["#000000", "#62d362", "#ef3b3b", "#2a8ae0", "#1c3a9e"]},
                 "legend": {"title": null, "legendX": 12, "legendY": 6, "labelFontSize": 16, "rowPadding": 4.5}}
     }}
  ]},
  {"bounds": "flush", "spacing": 0, "vconcat": [
    {"width": 280, "height": 252,
     "title": {"text": "(c)", "offset": 21, "dx": -92},
     "data": {"values": [
{"s":"PDA/PPY-0","t":0,"y":0},{"s":"PDA/PPY-0","t":300,"y":0},
{"s":"PDA/PPY-0.1","t":1.8,"y":0.1},{"s":"PDA/PPY-0.1","t":4,"y":0.12},{"s":"PDA/PPY-0.1","t":7,"y":0.17},{"s":"PDA/PPY-0.1","t":10,"y":0.23},{"s":"PDA/PPY-0.1","t":14,"y":0.28},{"s":"PDA/PPY-0.1","t":20,"y":0.32},{"s":"PDA/PPY-0.1","t":27,"y":0.345},{"s":"PDA/PPY-0.1","t":35,"y":0.37},{"s":"PDA/PPY-0.1","t":45,"y":0.39},{"s":"PDA/PPY-0.1","t":55,"y":0.41},{"s":"PDA/PPY-0.1","t":63,"y":0.43},{"s":"PDA/PPY-0.1","t":80,"y":0.46},{"s":"PDA/PPY-0.1","t":100,"y":0.485},{"s":"PDA/PPY-0.1","t":135,"y":0.515},{"s":"PDA/PPY-0.1","t":170,"y":0.535},{"s":"PDA/PPY-0.1","t":205,"y":0.55},{"s":"PDA/PPY-0.1","t":240,"y":0.56},{"s":"PDA/PPY-0.1","t":275,"y":0.568},{"s":"PDA/PPY-0.1","t":300,"y":0.572},
{"s":"PDA/PPY-0.2","t":1.8,"y":0.14},{"s":"PDA/PPY-0.2","t":4,"y":0.17},{"s":"PDA/PPY-0.2","t":7,"y":0.25},{"s":"PDA/PPY-0.2","t":10,"y":0.31},{"s":"PDA/PPY-0.2","t":14,"y":0.36},{"s":"PDA/PPY-0.2","t":18,"y":0.41},{"s":"PDA/PPY-0.2","t":25,"y":0.46},{"s":"PDA/PPY-0.2","t":35,"y":0.52},{"s":"PDA/PPY-0.2","t":45,"y":0.565},{"s":"PDA/PPY-0.2","t":63,"y":0.62},{"s":"PDA/PPY-0.2","t":80,"y":0.65},{"s":"PDA/PPY-0.2","t":100,"y":0.675},{"s":"PDA/PPY-0.2","t":135,"y":0.7},{"s":"PDA/PPY-0.2","t":170,"y":0.722},{"s":"PDA/PPY-0.2","t":205,"y":0.738},{"s":"PDA/PPY-0.2","t":240,"y":0.75},{"s":"PDA/PPY-0.2","t":275,"y":0.762},{"s":"PDA/PPY-0.2","t":300,"y":0.772},
{"s":"PDA/PPY-0.4","t":1.8,"y":0.21},{"s":"PDA/PPY-0.4","t":5,"y":0.29},{"s":"PDA/PPY-0.4","t":8,"y":0.37},{"s":"PDA/PPY-0.4","t":12,"y":0.46},{"s":"PDA/PPY-0.4","t":17,"y":0.54},{"s":"PDA/PPY-0.4","t":22,"y":0.6},{"s":"PDA/PPY-0.4","t":30,"y":0.66},{"s":"PDA/PPY-0.4","t":45,"y":0.748},{"s":"PDA/PPY-0.4","t":63,"y":0.809},{"s":"PDA/PPY-0.4","t":80,"y":0.86},{"s":"PDA/PPY-0.4","t":100,"y":0.9},{"s":"PDA/PPY-0.4","t":135,"y":0.945},{"s":"PDA/PPY-0.4","t":170,"y":0.97},{"s":"PDA/PPY-0.4","t":205,"y":0.99},{"s":"PDA/PPY-0.4","t":240,"y":1.01},{"s":"PDA/PPY-0.4","t":275,"y":1.03},{"s":"PDA/PPY-0.4","t":300,"y":1.04},
{"s":"PDA/PPY-1.0","t":1.8,"y":0.32},{"s":"PDA/PPY-1.0","t":5,"y":0.45},{"s":"PDA/PPY-1.0","t":8,"y":0.56},{"s":"PDA/PPY-1.0","t":12,"y":0.66},{"s":"PDA/PPY-1.0","t":17,"y":0.74},{"s":"PDA/PPY-1.0","t":22,"y":0.79},{"s":"PDA/PPY-1.0","t":30,"y":0.84},{"s":"PDA/PPY-1.0","t":45,"y":0.9},{"s":"PDA/PPY-1.0","t":63,"y":0.955},{"s":"PDA/PPY-1.0","t":80,"y":1.0},{"s":"PDA/PPY-1.0","t":100,"y":1.04},{"s":"PDA/PPY-1.0","t":135,"y":1.09},{"s":"PDA/PPY-1.0","t":170,"y":1.125},{"s":"PDA/PPY-1.0","t":205,"y":1.17},{"s":"PDA/PPY-1.0","t":240,"y":1.2},{"s":"PDA/PPY-1.0","t":275,"y":1.225},{"s":"PDA/PPY-1.0","t":300,"y":1.245}
     ]},
     "mark": {"type": "line", "strokeWidth": 2, "interpolate": "monotone"},
     "encoding": {
       "x": {"field": "t", "type": "quantitative", "scale": {"domain": [0, 300], "nice": false}, "axis": {"title": "Time (s)", "values": [0, 50, 100, 150, 200, 250, 300], "titlePadding": 9}},
       "y": {"field": "y", "type": "quantitative", "scale": {"domain": [-0.05, 1.79], "nice": false, "zero": false}, "axis": {"title": "Current (mA)", "values": [0, 0.4, 0.8, 1.2, 1.6], "format": ".1f", "titlePadding": 10, "labelPadding": 4}},
       "color": {"field": "s", "type": "nominal", "scale": {"domain": ["PDA/PPY-0", "PDA/PPY-0.1", "PDA/PPY-0.2", "PDA/PPY-0.4", "PDA/PPY-1.0"], "range": ["#000000", "#62d362", "#ef3b3b", "#2a8ae0", "#1c3a9e"]},
                 "legend": {"title": null, "legendX": 12, "legendY": 4.5, "labelFontSize": 15, "rowPadding": 2}}
     }},
    {"width": 280, "height": 63, "data": {"values": [{}]}, "mark": {"type": "point", "opacity": 0}, "view": {"stroke": null}},
    {"width": 278, "height": 249,
     "title": {"text": "(e)", "offset": 0, "dy": 20, "dx": -93},
     "data": {"values": [
{"s":"PDA/PPY-0","m":0},{"s":"PDA/PPY-0.1","m":30.0},{"s":"PDA/PPY-0.2","m":41.5},{"s":"PDA/PPY-0.4","m":38.4},{"s":"PDA/PPY-1.0","m":17.5}
     ]},
     "mark": {"type": "bar", "color": "black"},
     "encoding": {
       "x": {"field": "s", "type": "nominal", "sort": null, "scale": {"paddingInner": 0.42, "paddingOuter": 0.21},
             "axis": {"title": null, "labelAngle": -30, "labelAlign": "center", "labelBaseline": "middle", "labelPadding": 26, "labelFontSize": 16}},
       "y": {"field": "m", "type": "quantitative", "scale": {"domain": [0, 45], "nice": false},
             "axis": {"title": "Mass (\u03bcg)", "values": [0, 5, 10, 15, 20, 25, 30, 35, 40], "labelExpr": "datum.value % 10 === 0 ? datum.label : ''", "tickSize": {"condition": {"test": "datum.value % 10 === 0", "value": 5}, "value": 3}, "titlePadding": 15, "labelPadding": 4}}
     }}
  ]}
 ]}
]
}
